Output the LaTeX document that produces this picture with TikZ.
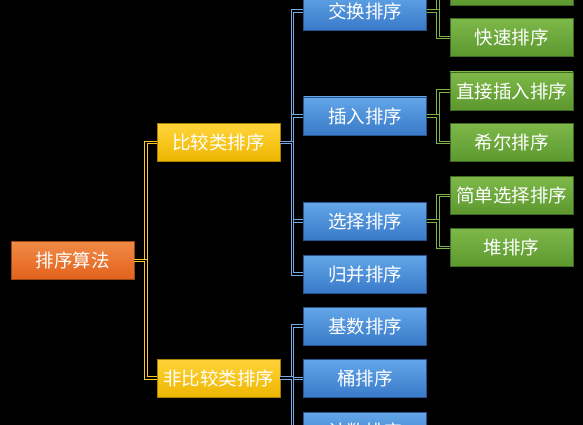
\documentclass[tikz,border=0pt]{standalone}
\usepackage{fontspec}
\setmainfont{Noto Sans CJK SC}
\usepackage{tikz}
\definecolor{OrTop}{RGB}{240,138,70}
\definecolor{OrBot}{RGB}{226,98,28}
\definecolor{YeTop}{RGB}{255,212,58}
\definecolor{YeBot}{RGB}{238,182,0}
\definecolor{BlTop}{RGB}{100,166,232}
\definecolor{BlBot}{RGB}{56,122,200}
\definecolor{GrTop}{RGB}{126,184,74}
\definecolor{GrBot}{RGB}{92,152,46}
\definecolor{YeLine}{RGB}{255,200,40}
\definecolor{BlLine}{RGB}{120,170,230}
\definecolor{GrLine}{RGB}{125,180,70}
\tikzset{box/.style={minimum width=123pt,minimum height=38pt,inner sep=0pt,
  text=white,font=\fontsize{18.5}{20}\selectfont,line width=0.5pt},
  obox/.style={box,draw=OrBot!70!black,top color=OrTop,bottom color=OrBot},
  ybox/.style={box,draw=YeBot!70!black,top color=YeTop,bottom color=YeBot},
  bbox/.style={box,draw=BlBot!70!black,top color=BlTop,bottom color=BlBot},
  gbox/.style={box,draw=GrBot!70!black,top color=GrTop,bottom color=GrBot},
  conn/.style={draw=#1,line width=1pt,double=black,double distance=1.5pt}}

\begin{document}
\begin{tikzpicture}[x=1pt,y=-1pt]
\fill[black] (0,0) rectangle (583,425);
\useasboundingbox (0,0) rectangle (583,425);

\node[obox] (algo) at (72.5,260.5) {排序算法};

\node[ybox] (cmp) at (218.5,142.5) {比较类排序};
\node[ybox] (ncmp) at (218.5,378) {非比较类排序};

\node[bbox] (swap) at (365,11) {交换排序};
\node[bbox] (ins) at (365,116) {插入排序};
\node[bbox] (sel) at (365,221) {选择排序};
\node[bbox] (merge) at (365,274) {归并排序};
\node[bbox] (radix) at (365,326) {基数排序};
\node[bbox] (bucket) at (365,378.5) {桶排序};
\node[bbox] (count) at (365,431) {计数排序};

\node[gbox] (bubble) at (511.5,-14) {};
\node[gbox] (quick) at (511.5,37.5) {快速排序};
\node[gbox] (direct) at (511.5,91) {直接插入排序};
\node[gbox] (shell) at (511.5,142.5) {希尔排序};
\node[gbox] (simple) at (511.5,195.5) {简单选择排序};
\node[gbox] (heap) at (511.5,247.5) {堆排序};

\foreach \c in {cmp,ncmp}
  \draw[conn=YeLine] (algo.east) -| ([xshift=-11pt]\c.west) -- (\c.west);

\foreach \c in {swap,ins,sel,merge}
  \draw[conn=BlLine] (cmp.east) -| ([xshift=-11pt]\c.west) -- (\c.west);
\foreach \c in {radix,bucket,count}
  \draw[conn=BlLine] (ncmp.east) -| ([xshift=-11pt]\c.west) -- (\c.west);

\foreach \p/\c in {swap/bubble,swap/quick,ins/direct,ins/shell,sel/simple,sel/heap}
  \draw[conn=GrLine] (\p.east) -| ([xshift=-12pt]\c.west) -- (\c.west);
\end{tikzpicture}
\end{document}
